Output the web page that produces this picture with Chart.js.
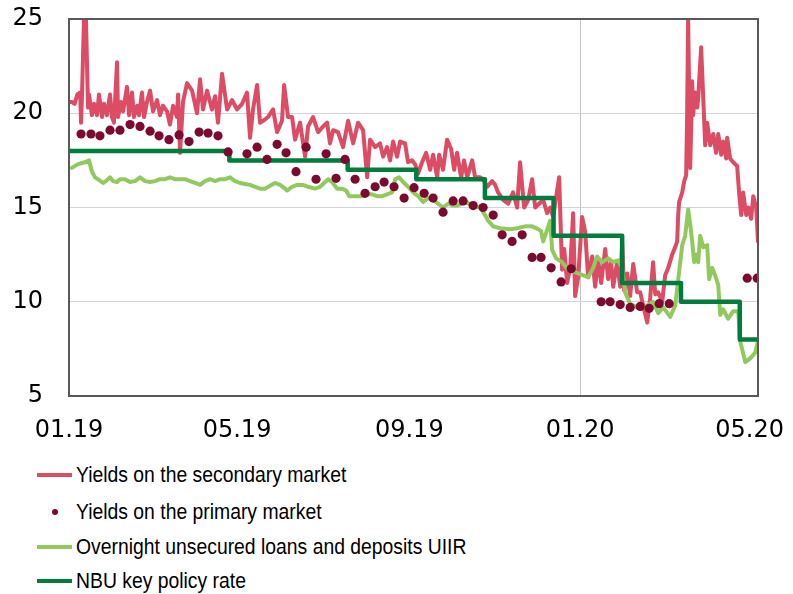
<!DOCTYPE html>
<html><head><meta charset="utf-8">
<script src="https://cdn.jsdelivr.net/npm/chart.js@4"></script>
<style>
html,body{margin:0;padding:0;background:#fff;}
#wrap{position:relative;width:793px;height:594px;overflow:hidden;background:#fff;}
#cv{position:absolute;left:0;top:0;}
.row{position:absolute;left:0;width:793px;height:0;font-family:"Liberation Sans",Arial,sans-serif;font-size:22.5px;color:#000;}
.sw{position:absolute;left:37px;width:35px;height:4px;top:-2px;}
.dot{position:absolute;left:52px;top:-3px;width:6px;height:6px;border-radius:50%;background:#7B0A2E;}
.tx{position:absolute;left:76px;top:-15px;line-height:30px;white-space:nowrap;transform:scaleX(0.86);transform-origin:left center;}
</style>
</head><body>
<div id="wrap">
<canvas id="cv" width="793" height="450"></canvas>
<div class="row" style="top:475px"><div class="sw" style="background:#DC4C65"></div><div class="tx">Yields on the secondary market</div></div>
<div class="row" style="top:512px"><div class="dot"></div><div class="tx">Yields on the primary market</div></div>
<div class="row" style="top:547px"><div class="sw" style="background:#92C95E"></div><div class="tx">Overnight unsecured loans and deposits UIIR</div></div>
<div class="row" style="top:581px"><div class="sw" style="background:#007D3E"></div><div class="tx">NBU key policy rate</div></div>
</div>
<script>
// x values are days since 1 Jan 2019
const tickDays = [0, 120, 243, 365, 486];
const tickLabels = ['01.19', '05.19', '09.19', '01.20', '05.20'];

const secondaryDays = [
 0, 2, 4, 6, 8, 8.6, 9.3, 10.7, 12.1, 13.6,
 14.3, 16.4, 17.9, 20, 21.4, 23.6, 25, 27.1, 29.3, 30.7,
 32.1, 34.3, 35, 37.1, 38.6, 41.4, 42.9, 45, 46.4, 48.6,
 50, 52.1, 53.6, 55.7, 57.9, 60, 62.9, 65, 67.1, 70,
 72.1, 74.3, 77.1, 77.9, 79.3, 81.4, 84.3, 87.9, 91.4, 93.6,
 95.7, 98.6, 102.1, 104.3, 106.4, 109.3, 112.9, 116.4, 120, 123.6,
 127.1, 129.3, 131.4, 134.3, 136.4, 138.6, 142.1, 145.7, 148.6, 152.1,
 153.6, 156.4, 159.3, 161.4, 165, 168.6, 170.7, 174.3, 177.9, 181.4,
 184.3, 186.4, 188.6, 192.1, 195.7, 199.3, 202.9, 206.4, 210, 212.9,
 215, 218.6, 222.1, 224.3, 227.1, 229.3, 231.4, 234.3, 236.4, 240,
 242.1, 245, 247.1, 249.3, 252.1, 255, 257.9, 260, 262.9, 264.3,
 267.1, 270, 272.9, 275, 277.1, 280, 282.1, 284.3, 287.9, 290,
 293.6, 295.7, 298.6, 302.1, 304.3, 306.4, 310, 313.6, 317.1, 320,
 322.1, 325, 327.9, 330.7, 332.9, 335.7, 338.6, 341.4, 343.6, 345.7,
 350, 352.1, 353.6, 355.7, 357.9, 360, 361.4, 363.6, 366.4, 368.6,
 370.7, 373.6, 375.7, 377.9, 380, 382.9, 385, 387.1, 388.6, 391.4,
 393.6, 395, 396.4, 398.6, 400.7, 402.9, 405.7, 407.9, 410, 412.9,
 415, 417.1, 418.6, 420.7, 423.6, 425.7, 427.9, 430.7, 432.9, 434.3,
 435, 435.7, 437.9, 439.3, 440.7, 441.4, 442.1, 443.6, 445, 445.7,
 447.1, 448.6, 449.3, 451.4, 452.9, 454.3, 455.7, 457.9, 460, 462.1,
 463.6, 465.7, 467.1, 469.3, 470, 472.1, 474.3, 477.1, 478.6, 480,
 481.4, 483.6, 485, 487.1, 488.6, 490.7, 492
];
const secondaryValues = [
 20.6, 20.6, 20.5, 21.0, 21.1, 19.5, 21.0, 25.0, 25.0, 20.3,
 21.0, 19.9, 20.5, 19.9, 21.0, 19.8, 20.5, 19.9, 21.0, 19.8,
 19.5, 22.7, 19.8, 20.6, 20.1, 21.4, 19.9, 21.1, 19.8, 20.4,
 19.9, 21.1, 19.8, 20.6, 21.2, 20.1, 20.7, 19.9, 20.4, 20.1,
 19.4, 20.4, 19.8, 21.0, 17.9, 20.6, 21.6, 21.2, 20.0, 21.8,
 20.2, 21.2, 20.2, 20.9, 19.5, 22.1, 20.2, 20.7, 20.2, 20.5,
 21.1, 18.7, 20.2, 21.5, 19.5, 19.6, 19.8, 20.2, 19.0, 19.6,
 21.5, 19.8, 19.8, 18.6, 19.5, 17.7, 19.3, 19.8, 19.0, 19.3,
 19.5, 18.4, 19.1, 19.0, 18.2, 19.6, 18.4, 19.5, 19.1, 16.6,
 18.6, 18.2, 18.4, 17.7, 18.2, 17.5, 18.5, 17.7, 18.5, 18.4,
 17.4, 17.5, 17.3, 16.8, 17.4, 17.9, 17.0, 17.8, 16.6, 17.8,
 17.0, 18.6, 18.1, 17.0, 17.9, 16.6, 17.5, 16.6, 17.5, 16.6,
 16.6, 16.5, 16.1, 16.4, 16.2, 15.8, 15.4, 15.2, 15.8, 15.0,
 17.4, 15.0, 15.4, 16.5, 15.0, 15.2, 15.4, 14.7, 15.0, 14.5,
 16.6, 11.7, 12.8, 11.0, 11.8, 14.7, 10.3, 11.3, 14.5, 13.7,
 11.3, 12.4, 10.8, 12.2, 11.0, 12.8, 11.2, 12.1, 10.8, 12.1,
 10.8, 13.1, 10.6, 11.5, 10.3, 12.0, 10.5, 10.5, 9.8, 8.9,
 10.2, 12.1, 10.4, 10.5, 10.0, 11.4, 11.8, 12.5, 12.9, 13.2,
 14.6, 15.3, 15.8, 16.4, 16.7, 19.9, 25.0, 17.1, 21.7, 19.9,
 21.1, 20.3, 20.8, 23.5, 20.8, 18.3, 19.5, 18.3, 18.9, 17.9,
 18.9, 17.8, 18.5, 17.6, 18.7, 17.6, 17.4, 17.2, 15.7, 14.6,
 15.8, 14.6, 15.0, 14.4, 15.6, 15.0, 13.2
];

const primaryDays = [
 8.6, 15.7, 22.1, 29.3, 36.4, 43.6, 50.7, 57.9, 64.3, 71.4,
 78.6, 85.7, 92.9, 99.3, 106.4, 113.6, 127.1, 134.3, 141.4, 148.6,
 155, 162.1, 169.3, 176.4, 183.6, 190.7, 197.1, 204.3, 211.4, 218.6,
 225, 232.1, 239.3, 246.4, 253.6, 260, 267.1, 274.3, 281.4, 288.6,
 295.7, 302.9, 309.3, 316.4, 323.6, 330.7, 337.1, 344.3, 351.4, 358.6,
 380, 386.4, 393.6, 400.7, 407.9, 414.3, 421.4, 428.6, 484.3, 491.4
];
const primaryValues = [
 18.9, 18.9, 18.8, 19.1, 19.1, 19.4, 19.3, 19.05, 18.8, 18.6,
 18.85, 18.5, 19.0, 18.95, 18.8, 17.95, 17.85, 18.2, 17.55, 18.35,
 17.9, 16.9, 18.2, 16.5, 17.85, 16.55, 17.55, 16.5, 15.75, 16.1,
 16.35, 16.1, 15.5, 16.05, 15.75, 15.5, 14.75, 15.35, 15.35, 15.1,
 15.0, 14.6, 13.55, 13.2, 13.55, 12.35, 12.35, 11.8, 11.05, 11.75,
 10.0, 10.0, 9.85, 9.7, 9.75, 9.65, 9.9, 9.9, 11.25, 11.25
];

const uiirDays = [
 2.1, 6.4, 11.4, 14.3, 16.4, 18.6, 20.7, 24.3, 26.4, 29.3,
 31.4, 34.3, 36.4, 40, 43.6, 47.1, 50.7, 54.3, 57.9, 61.4,
 65, 68.6, 72.1, 75.7, 79.3, 82.9, 86.4, 90, 93.6, 97.1,
 100.7, 104.3, 107.9, 111.4, 115, 118.6, 122.1, 125.7, 129.3, 132.9,
 136.4, 140, 143.6, 147.1, 150.7, 154.3, 155.7, 159.3, 162.9, 167.1,
 170.7, 175.7, 179.3, 185, 187.9, 191.4, 195, 197.9, 200, 204.3,
 209.3, 213.6, 216.4, 220, 223.6, 227.1, 230.7, 232.9, 235.7, 238.6,
 242.1, 245.7, 249.3, 252.9, 256.4, 260, 263.6, 267.1, 270.7, 274.3,
 277.1, 280.7, 283.6, 287.9, 293.6, 297.1, 299.3, 302.9, 307.9, 315,
 320, 325.7, 330.7, 335, 337.1, 338.6, 340.7, 343.6, 345, 347.9,
 352.1, 356.4, 363.6, 370.7, 374.3, 377.1, 380.7, 385, 388.6, 392.1,
 395, 397.1, 400.7, 405.7, 410, 412.9, 417.1, 420.7, 424.3, 429.3,
 432.9, 435.7, 437.9, 440, 442.1, 443.6, 445, 446.4, 447.9, 449.3,
 450.7, 452.9, 455.7, 457.1, 459.3, 461.4, 463.6, 465, 467.1, 470.7,
 474.3, 477.9, 479.3, 482.9, 486.4, 490, 492
];
const uiirValues = [
 17.1, 17.3, 17.4, 17.5, 16.9, 16.6, 16.5, 16.3, 16.4, 16.6,
 16.4, 16.35, 16.5, 16.5, 16.35, 16.4, 16.6, 16.4, 16.35, 16.4,
 16.5, 16.5, 16.6, 16.5, 16.5, 16.5, 16.4, 16.3, 16.2, 16.4,
 16.5, 16.4, 16.5, 16.5, 16.6, 16.4, 16.3, 16.25, 16.2, 16.1,
 16.0, 16.0, 16.15, 16.3, 16.2, 16.0, 15.9, 16.1, 16.2, 16.2,
 16.1, 16.0, 16.1, 16.5, 16.35, 16.0, 16.0, 15.9, 15.6, 15.6,
 15.6, 15.7, 15.7, 15.6, 15.6, 15.7, 15.8, 16.5, 16.6, 16.35,
 16.1, 15.8, 15.6, 15.3, 15.5, 15.4, 15.2, 15.0, 15.2, 15.1,
 15.1, 15.2, 15.3, 15.1, 15.0, 14.6, 14.3, 14.0, 13.9, 13.85,
 13.9, 14.0, 14.0, 13.85, 13.75, 13.2, 13.65, 14.3, 12.75, 12.3,
 12.1, 11.7, 11.5, 11.3, 11.8, 12.4, 12.1, 12.3, 12.1, 12.2,
 11.8, 10.5, 9.9, 9.7, 9.7, 9.8, 10.0, 9.4, 9.7, 9.2,
 9.8, 11.6, 13.0, 13.5, 14.9, 14.1, 13.2, 12.1, 12.5, 12.1,
 13.5, 12.9, 13.0, 11.2, 11.8, 11.4, 10.9, 9.3, 9.6, 9.1,
 9.5, 9.5, 7.9, 6.8, 7.0, 7.3, 7.9
];

const policyDays = [0, 114.5, 199, 248, 297, 346, 395, 437, 479, 492];
const policyRates = [18, 17.5, 17, 16.5, 15.5, 13.5, 11, 10, 8, 8];

const pts = (xs, ys) => xs.map((x, i) => ({ x: x, y: ys[i] }));
const FONT = '"DejaVu Sans", "Liberation Sans", Arial, sans-serif';

const framePlugin = {
  id: 'frame',
  afterDatasetsDraw(c) {
    const { ctx, chartArea: a } = c;
    ctx.save();
    ctx.strokeStyle = '#595959';
    ctx.lineWidth = 2;
    ctx.strokeRect(a.left, a.top, a.right - a.left, a.bottom - a.top);
    ctx.restore();
  }
};

new Chart(document.getElementById('cv'), {
  type: 'line',
  data: {
    datasets: [
      { label: 'Yields on the primary market', data: pts(primaryDays, primaryValues), showLine: false,
        pointRadius: 4.6, pointBackgroundColor: '#7B0A2E', pointBorderWidth: 0, order: 0 },
      { label: 'NBU key policy rate', data: pts(policyDays, policyRates), stepped: 'before',
        borderColor: '#007D3E', borderWidth: 4.5, pointRadius: 0, fill: false, order: 1 },
      { label: 'Overnight unsecured loans and deposits UIIR', data: pts(uiirDays, uiirValues),
        borderColor: '#92C95E', borderWidth: 4, pointRadius: 0, fill: false, tension: 0, order: 2 },
      { label: 'Yields on the secondary market', data: pts(secondaryDays, secondaryValues),
        borderColor: '#DC4C65', borderWidth: 4, pointRadius: 0, fill: false, tension: 0, order: 3 }
    ]
  },
  options: {
    responsive: false,
    animation: false,
    devicePixelRatio: 1,
    layout: { padding: { left: 0, top: 19, right: 35, bottom: 0 } },
    elements: { line: { borderJoinStyle: 'round', borderCapStyle: 'round' } },
    plugins: { legend: { display: false }, tooltip: { enabled: false } },
    scales: {
      x: {
        type: 'linear', min: 0, max: 492,
        afterBuildTicks: s => { s.ticks = tickDays.map(v => ({ value: v })); },
        afterFit: s => { s.height = 54; s.paddingLeft = 0; s.paddingRight = 0; },
        ticks: {
          callback: v => tickLabels[tickDays.indexOf(v)],
          padding: 20, autoSkip: false, maxRotation: 0,
          font: { family: FONT, size: 24 }, color: '#000'
        },
        grid: {
          color: c => (c.tick && c.tick.value === 365) ? '#C4C4C8' : 'rgba(0,0,0,0)',
          drawTicks: false, lineWidth: 1
        },
        border: { display: false }
      },
      y: {
        min: 5, max: 25,
        afterFit: s => { s.width = 69; s.paddingTop = 0; s.paddingBottom = 0; },
        ticks: { stepSize: 5, padding: 26, font: { family: FONT, size: 24 }, color: '#000' },
        grid: { color: '#D4D4D8', drawTicks: false, lineWidth: 1 },
        border: { display: false }
      }
    }
  },
  plugins: [framePlugin]
});
</script>
</body></html>
